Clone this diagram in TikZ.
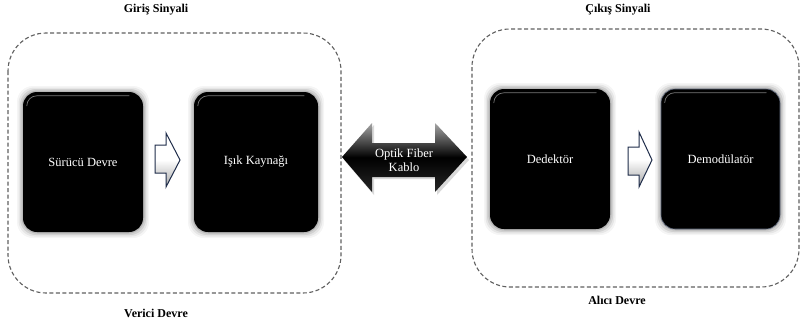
\documentclass[tikz,border=0pt]{standalone}
\usepackage{fontspec}
\setmainfont{Liberation Serif}
\definecolor{frameg}{HTML}{606060}
\definecolor{navy}{HTML}{1F2D4A}
\tikzset{
  blackbox/.style={fill=black, rounded corners=14pt, inner sep=0pt,
    text=white, font=\fontsize{12.5}{14}\selectfont},
  frame/.style={draw=frameg, line width=1.1pt, dash pattern=on 4pt off 2.5pt, rounded corners=38pt},
  title/.style={font=\fontsize{12}{14}\selectfont\bfseries, inner sep=0pt},
  smallarrow/.style={draw=navy, line width=1pt, top color=white, bottom color=gray!70, middle color=white},
  bigarrow/.style={top color=gray!70, bottom color=black!85, middle color=black},
  arrowtext/.style={text=white, font=\fontsize{12.5}{13.5}\selectfont, align=center, inner sep=0pt}
}
\newcommand{\halo}[5]{% x1 y1 x2 y2 (unused)
  \foreach \d/\o in {6/0.04,4.5/0.06,3/0.09,1.5/0.12}{
    \fill[black, opacity=\o, rounded corners=16pt] (#1-\d,#2-\d) rectangle (#3+\d,#4+\d);
  }
}
\begin{document}
\begin{tikzpicture}[x=1pt,y=-1pt]
\useasboundingbox (0,0) rectangle (801,322);
\fill[white] (0,0) rectangle (801,322);

% frames
\draw[frame] (8,33) rectangle (341,293);
\draw[frame] (472,29) rectangle (799,287);

% titles
\node[title] (gs) at (156,10) {Giriş Sinyali};
\node[title] (vd) at (156,313) {Verici Devre};
\node[title] (cs) at (618,10) {Çıkış Sinyali};
\node[title] (ad) at (617,300) {Alıcı Devre};

% halos
\halo{23}{92}{143}{232}{}
\halo{194}{92}{318}{232}{}
\halo{490}{89}{610}{229}{}
\halo{661}{89}{780}{229}{}

% boxes
\node[blackbox, minimum width=120pt, minimum height=140pt] (sd) at (83,162) {Sürücü Devre};
\node[blackbox, minimum width=124pt, minimum height=140pt] (ik) at (256,162) {Işık Kaynağı};
\node[blackbox, minimum width=120pt, minimum height=140pt] (dd) at (550,159) {Dedektör};
\node[blackbox, minimum width=119pt, minimum height=140pt, draw=navy!70, line width=0.6pt] (dm) at (720.5,159) {Demodülatör};

% glossy top highlights
\foreach \n in {sd,ik,dd,dm}{
  \draw[gray!45, opacity=0.6, line width=0.7pt, line cap=round]
    ([xshift=4pt,yshift=-14pt]\n.north west) arc[start angle=180,end angle=90,radius=10pt]
    -- ([xshift=-14pt,yshift=-4pt]\n.north east);
}

% small arrows
\path[smallarrow] (155,145) -- (166,145) -- (166,133) -- (180,160) -- (166,187)
  -- (166,173) -- (155,173) -- cycle;
\path[smallarrow] (628,147) -- (639,147) -- (639,132) -- (652,160) -- (639,187)
  -- (639,175) -- (628,175) -- cycle;

% double arrow (fiber)
\fill[black, opacity=0.15] (344,160) -- (374,125) -- (374,145) -- (437,145) -- (437,125)
  -- (469,160) -- (437,195) -- (437,179) -- (374,179) -- (374,195) -- cycle;
\shade[bigarrow] (342,157) -- (372,123) -- (372,143) -- (435,143) -- (435,123)
  -- (467,157) -- (435,192) -- (435,177) -- (372,177) -- (372,192) -- cycle;
\node[arrowtext] (ofk) at (404,160) {Optik Fiber\\Kablo};

\end{tikzpicture}
\end{document}
